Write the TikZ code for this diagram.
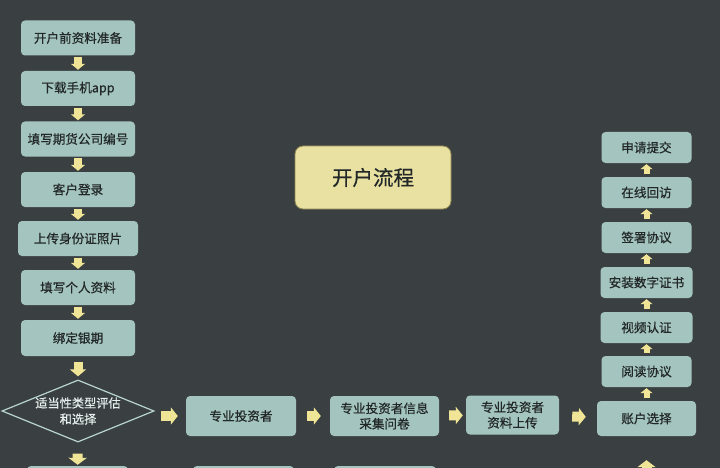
\documentclass[tikz,border=0pt]{standalone}
\usepackage{fontspec}
\setmainfont{Noto Sans CJK SC}
\newfontfamily\stepfont[FakeBold=0.6]{Noto Sans CJK SC}
\usetikzlibrary{arrows.meta}
\usetikzlibrary{shapes}

\definecolor{bgdark}{RGB}{58,64,66}
\definecolor{boxteal}{RGB}{164,197,191}
\definecolor{txtdark}{RGB}{34,40,40}
\definecolor{arrowyel}{RGB}{240,228,150}
\definecolor{titlefill}{RGB}{233,225,162}
\definecolor{titleline}{RGB}{140,132,80}
\definecolor{diamline}{RGB}{185,212,207}
\definecolor{diamtext}{RGB}{232,240,238}

\tikzset{
 stepbox/.style={rectangle, rounded corners=4pt, fill=boxteal, text=txtdark,
   inner sep=0pt, minimum width=114pt, minimum height=35pt, align=center,
   font=\stepfont\fontsize{12.6}{15.5}\selectfont},
 sidebox/.style={stepbox, minimum width=90pt, minimum height=31pt},
 titlebox/.style={rectangle, rounded corners=8pt, fill=titlefill, draw=titleline,
   line width=0.8pt, text=txtdark, minimum width=156pt, minimum height=63pt,
   font=\stepfont\fontsize{20.5}{24}\selectfont},
 choicebox/.style={diamond, draw=diamline, line width=1.2pt, text=diamtext,
   inner sep=0pt, aspect=2.45, align=center, font=\stepfont\fontsize{12.2}{16}\selectfont},
 downarr/.style={color=arrowyel, line width=8pt, -{Triangle[width=14pt,length=6pt]},
   shorten <=1.5pt, shorten >=1pt},
 bigdown/.style={color=arrowyel, line width=10pt, -{Triangle[width=18pt,length=7pt]}},
 rightarr/.style={color=arrowyel, line width=10pt, -{Triangle[width=17pt,length=7pt]}},
 uparr/.style={color=arrowyel, line width=6pt, -{Triangle[width=12pt,length=5pt]},
   shorten <=2.5pt, shorten >=1pt}
}

\begin{document}
\begin{tikzpicture}[x=1pt,y=-1pt]
 \useasboundingbox (0,0) rectangle (720,468);
 \fill[bgdark] (0,0) rectangle (720,468);
 \clip (0,0) rectangle (720,468);

 \node[stepbox] (prep) at (78,38) {开户前资料准备};
 \node[stepbox] (app) at (78,88.5) {下载手机app};
 \node[stepbox] (code) at (78,139) {填写期货公司编号};
 \node[stepbox] (login) at (78,189.5) {客户登录};
 \node[stepbox, minimum width=120pt] (photo) at (78,238.5) {上传身份证照片};
 \node[stepbox] (info) at (78,287.5) {填写个人资料};
 \node[stepbox, minimum height=36pt] (bank) at (78,338) {绑定银期};
 \node[choicebox] (choice) at (78,411) {适当性类型评估\\和选择};

 \node[stepbox, minimum width=101pt] (nextA) at (77.5,483.5) {};
 \node[stepbox, minimum width=101pt] (nextB) at (243.5,483.5) {};
 \node[stepbox, minimum width=102pt] (nextC) at (385,483.5) {};

 \node[stepbox, minimum width=110pt, minimum height=40pt] (pro) at (241,416) {专业投资者};
 \node[stepbox, minimum width=109pt, minimum height=40pt] (survey) at (384.5,416) {专业投资者信息\\采集问卷};
 \node[stepbox, minimum width=93pt, minimum height=39pt] (upload) at (512.5,415) {专业投资者\\资料上传};
 \node[stepbox, minimum width=99pt] (acct) at (646.5,418.5) {账户选择};

 \node[sidebox] (read) at (646.5,371.5) {阅读协议};
 \node[sidebox, minimum width=92pt] (video) at (646.5,327.5) {视频认证};
 \node[sidebox, minimum width=92pt] (cert) at (646.5,282.5) {安装数字证书};
 \node[sidebox] (sign) at (646.5,237.5) {签署协议};
 \node[sidebox] (revisit) at (646.5,192.5) {在线回访};
 \node[sidebox] (submit) at (646.5,147.5) {申请提交};
 \coordinate (below) at (646.5,520);

 \node[titlebox] (title) at (373,177.5) {开户流程};

 \draw[downarr] (prep) -- (app);
 \draw[downarr] (app) -- (code);
 \draw[downarr] (code) -- (login);
 \draw[downarr] (login) -- (photo);
 \draw[downarr] (photo) -- (info);
 \draw[downarr] (info) -- (bank);
 \draw[downarr, line width=9pt, -{Triangle[width=16pt,length=7pt]}, shorten <=6pt, shorten >=3pt] (bank) -- (choice);
 \draw[bigdown, shorten <=11pt, shorten >=1pt] (choice) -- (nextA);

 \draw[rightarr, shorten <=6pt, shorten >=8pt] (choice.east |- pro.west) -- (pro.west);
 \draw[rightarr, shorten <=11pt, shorten >=9pt] (pro) -- (survey);
 \draw[rightarr, shorten <=10pt, shorten >=3pt] (survey) -- (upload);
 \draw[rightarr, shorten <=13pt, shorten >=11pt] (upload) -- (acct);

 \draw[bigdown, shorten >=24pt] (below) -- (acct);
 \draw[uparr] (acct) -- (read);
 \draw[uparr] (read) -- (video);
 \draw[uparr] (video) -- (cert);
 \draw[uparr] (cert) -- (sign);
 \draw[uparr] (sign) -- (revisit);
 \draw[uparr] (revisit) -- (submit);
\end{tikzpicture}
\end{document}
